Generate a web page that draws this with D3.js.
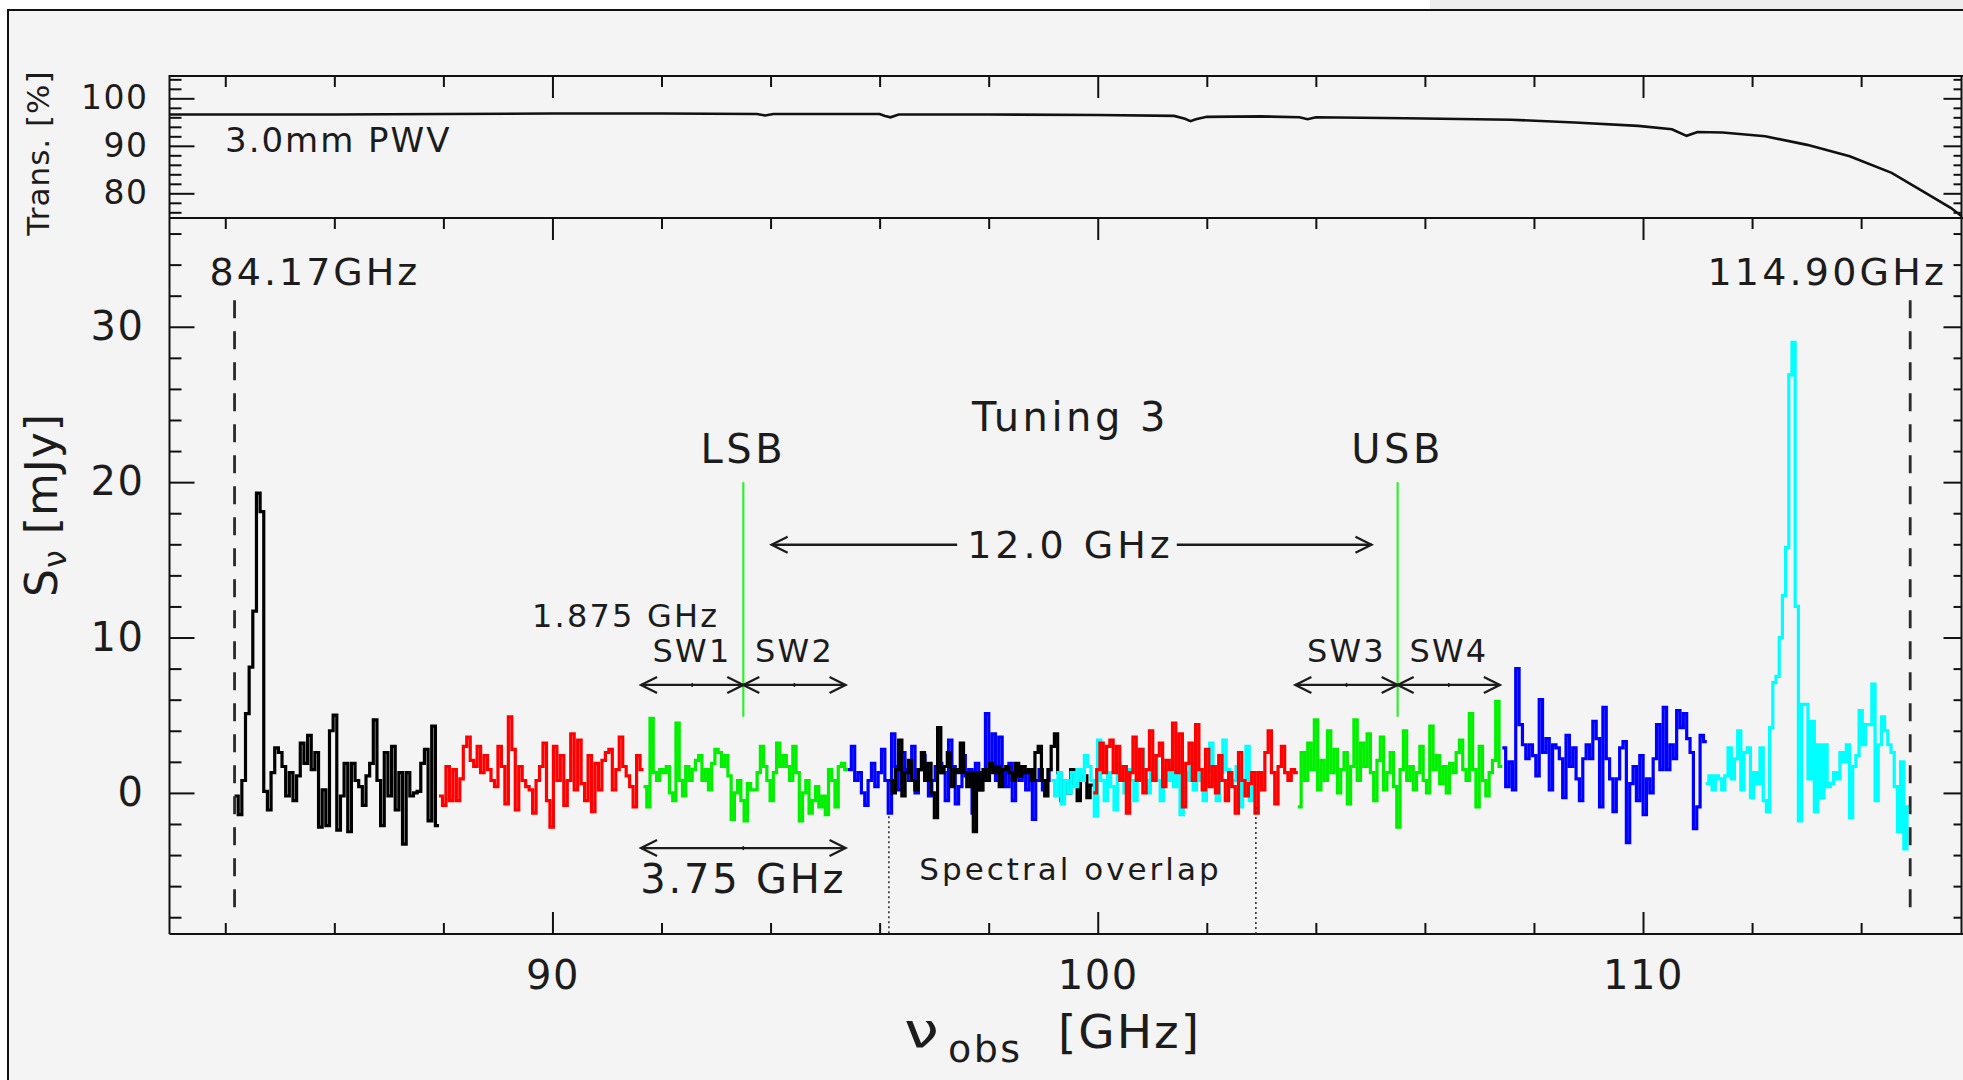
<!DOCTYPE html>
<html><head><meta charset="utf-8">
<script src="https://cdn.jsdelivr.net/npm/d3@7"></script>
<style>
html,body{margin:0;padding:0;background:#fff;}
svg{display:block;}
text{font-family:"DejaVu Sans",sans-serif;fill:#1c1c1c;}
</style></head><body>
<svg id="chart" width="1963" height="1080"></svg>
<script>
// ---------------- DATA ----------------
// atmospheric transmission (top panel)
const transFreq=[82.98,86.0,88.0,90.0,92.0,93.75,93.9,94.05,96.0,96.1,96.2,96.35,98.0,100.0,101.4,101.6,101.7,101.8,102.0,103.0,103.7,103.85,104.0,105.65,107.58,108.75,109.91,110.53,110.8,111.0,111.46,112.24,113.01,113.79,114.56,115.18,115.65,115.85];
const transPct=[96.6,96.6,96.7,96.8,96.8,96.7,96.4,96.7,96.7,96.3,96.0,96.6,96.6,96.5,96.3,95.7,95.2,95.6,96.1,96.2,96.0,95.6,96.0,95.8,95.5,94.9,94.2,93.5,92.1,92.9,92.8,92.0,90.2,87.8,84.3,80.1,76.9,75.1];

// spectra (mJy), one array per 3.75 GHz window
const blackA=[-0.2,-1.4,0.8,5.1,8.1,11.7,19.3,18.1,0.1,-1.1,1.3,2.9,2.6,1.7,-0.2,1.3,-0.5,1.1,3.2,1.9,3.7,1.5,2.6,-2.2,0.2,-2.1,4.0,5.0,-2.4,-0.2,1.9,-2.5,1.9,0.8,0.4,-0.8,1.1,1.9,4.7,0.8,-2.1,2.6,-0.2,3.0,-1.1,1.3,-3.3,1.3,-0.2,0.0,0.1,1.9,2.8,-1.8,4.3,-2.1];
const redA=[-0.2,-0.8,1.7,-0.5,1.5,-0.5,0.9,3.0,3.6,2.1,1.7,3.0,1.3,2.4,1.5,0.8,0.4,3.0,1.7,-0.7,4.9,2.8,-1.1,1.7,0.8,0.4,0.2,-1.3,0.8,1.7,3.2,-0.5,-2.2,3.0,0.8,2.4,-0.8,0.8,3.8,0.2,3.4,0.6,-0.5,2.4,-1.2,1.9,0.2,2.1,2.6,2.8,0.2,1.5,3.6,1.7,1.1,0.4,-0.9,2.4,1.5];
const greenA=[0.4,-0.9,4.8,1.3,0.8,1.5,1.3,1.7,0,-0.5,4.5,0.8,-0.2,1.7,0.8,1.5,2.1,2.4,0.8,1.5,0.2,1.9,2.8,2.6,1.7,2.4,1.1,-1.7,0,0.8,-0.5,-1.8,0.6,0.2,0.2,1.3,3.0,1.7,0.8,-0.5,1.3,3.2,1.7,2.4,1.7,0.8,3.0,1.3,-1.8,0,0.8,-1.3,-0.5,0.4,-0.9,-0.2,-1.4,1.5,0.8,-0.9,1.7,1.9,1.5];
const blueA=[1.5,3.0,0.8,1.3,0,-0.8,0.8,1.9,0.4,1.3,2.8,0.8,-1.3,3.8,1.7,0.2,2.6,1.5,0.8,3.0,0,1.5,2.4,1.3,-0.2,0.8,1.7,1.9,1.3,-0.5,3.4,1.7,-0.7,0.4,2.4,1.1,1.5,-1.3,1.9,0.2,0.8,5.1,1.7,3.8,0.8,3.6,1.3,0.4,1.9,-0.5,1.7,0.8,1.3,0.2,1.5,-1.7,0.8,1.5,0.2,0.8,1.5];
const blackB=[0.8,0,1.5,3.4,-0.2,1.3,2.1,0.8,0.2,1.5,2.6,0.8,1.9,0,-1.6,4.2,1.3,1.7,2.6,0.4,1.5,1.3,3.2,1.3,0.4,1.3,-2.5,1.3,0.2,1.5,0.8,1.9,1.3,1.7,0.4,1.5,1.7,1.3,0.8,1.9,1.1,1.7,1.3,1.5,0.8,2.6,3.0,0.8,-0.2,1.5,3.0,3.8,1.3,-0.5,0.8,0,1.5,0.6,-0.5,0.8,1.1,-0.3,0.5];
const cyanA=[0.8,-0.2,1.3,-0.7,0.8,0,1.3,0.4,1.5,0.8,2.4,1.7,0.8,-1.5,3.4,0.8,-0.5,1.3,0.4,-1.1,1.9,0.8,0,1.5,0.8,-0.5,1.3,2.8,0.8,0,1.5,2.4,0.8,-0.5,1.5,0.8,1.9,0.4,3.0,-1.4,1.3,0.8,1.9,0.2,1.3,0.8,-0.5,1.3,3.2,0.8,-0.5,1.3,3.4,1.5,0.4,0.8,1.7,-0.9,0.8,3.0,-0.5,0.4];
const redB=[0,1.5,3.2,1.3,3.0,3.4,1.3,3.0,0.8,1.7,-1.3,1.3,3.6,0.8,2.8,0,1.5,4.0,0.8,2.4,3.2,0.4,2.1,1.5,4.5,1.3,3.8,-0.9,1.9,3.2,0.8,4.4,1.5,0.2,2.8,0.4,1.7,0,2.4,0.8,-0.5,1.3,0.4,-1.3,2.6,0.8,-0.2,0.6,1.3,-1.3,1.3,0.2,2.6,4.0,1.3,-0.7,1.7,3.0,1.3,0.8,1.5,1.3];
const greenB=[-0.9,2.6,0.8,3.2,1.5,4.7,0.2,2.1,0.8,4.0,1.3,2.8,0,1.5,2.6,-0.7,1.7,4.7,0.8,3.2,1.7,3.8,1.3,-0.5,2.1,3.6,0.2,1.3,2.6,0.4,-2.2,1.5,4.0,0.8,1.7,0.2,1.3,3.0,0.8,0,4.3,1.5,2.4,0.6,1.7,0,1.9,1.3,2.6,3.4,1.5,0.8,5.1,1.5,-0.9,3.0,0.8,-0.2,1.3,2.1,5.9,1.7];
const blueB=[2.9,0.4,2.0,0.2,8.0,4.4,3.1,2.2,3.1,2.4,1.1,6.0,2.6,3.5,0.2,3.1,2.9,2.2,-0.3,3.7,1.7,2.9,0.9,-0.5,2.2,3.1,2.2,4.6,3.5,-0.9,5.5,2.2,0.9,-1.2,0.9,2.9,3.3,-3.2,0.6,1.7,-0.5,2.4,-1.4,0.9,0,2.2,4.4,1.5,5.5,1.5,3.1,2.2,5.3,4.2,5.1,3.5,2.6,-2.3,-0.9,3.7,3.3];
const cyanB=[0.6,1.1,0.2,1.1,0.9,0.2,1.1,2.9,0.9,2.2,4.0,0.2,2.6,2.9,-0.3,1.3,0.6,2.9,-0.5,-1.2,4.2,7.1,7.5,10.0,12.7,15.8,26.9,29.0,12.0,-1.8,5.7,5.7,0.9,4.6,-1.2,3.1,-0.3,3.1,0.4,0.6,1.3,0.9,2.6,2.0,3.1,-1.6,1.7,2.4,5.3,3.1,4.4,4.4,7.0,-0.5,3.1,4.9,4.0,3.1,2.6,0.4,-2.5,2.0,-3.6,-0.9];

// window edges (GHz) and tuning number of each window
const segStart=[84.17,87.92,91.67,95.42,96.17,99.15,99.92,103.67,107.42,111.15];
const segEnd  =[87.92,91.67,95.42,99.17,99.92,102.90,103.67,107.42,111.17,114.90];
const segTuning=[1,2,3,4,1,5,2,3,4,5];
const segValues=[blackA,redA,greenA,blueA,blackB,cyanA,redB,greenB,blueB,cyanB];

// ticks / labels
const xMajor=[90,100,110];
const xMinor=[84,86,88,92,94,96,98,102,104,106,108,112,114];
const transMajor=[80,90,100];
const transMinor=[76,78,82,84,86,88,92,94,96,98,102,104];
const fluxMajor=[0,10,20,30];
const fluxMinor=[-8,-6,-4,-2,2,4,6,8,12,14,16,18,22,24,26,28,32,34,36];

// annotation values
const lsbFreq=93.5, usbFreq=105.5;
const bandEdges=[84.17,114.90];
const overlapEdges=[96.17,102.90];

// ---------------- DRAW ----------------
const W=1963,H=1080;
const tuningColor={1:"#000000",2:"#ff0000",3:"#00f000",4:"#0000ff",5:"#00ffff"};
const svg=d3.select("#chart");
svg.append("rect").attr("width",W).attr("height",H).attr("fill","#fff");
svg.append("rect").attr("x",8).attr("y",10).attr("width",W-8).attr("height",H-10).attr("fill","#f4f4f4");
svg.append("rect").attr("x",1430).attr("y",0).attr("width",W-1430).attr("height",9).attr("fill","#ededed");
svg.append("path").attr("d","M8,1080V10H1963").attr("fill","none").attr("stroke","#111").attr("stroke-width",2);

const L=169.5,R=1961.5,T0=76,T1=218,B1=934;
const x=d3.scaleLinear().domain([82.977,115.85]).range([L,1962]);
const yT=d3.scaleLinear().domain([74.8,104.7]).range([T1,T0]);
const yS=d3.scaleLinear().domain([-9.08,37.0]).range([B1,T1]);

const defs=svg.append("defs");
defs.append("clipPath").attr("id","clipT").append("rect").attr("x",L).attr("y",T0).attr("width",R-L).attr("height",T1-T0);
defs.append("clipPath").attr("id","clipS").append("rect").attr("x",L).attr("y",T1).attr("width",R-L).attr("height",B1-T1);

function axis(gen,tx,ty,vals,size,fmt,pad,fs){
  const g=svg.append("g").attr("transform",`translate(${tx},${ty})`)
    .call(gen.tickValues(vals).tickSizeInner(size).tickSizeOuter(0).tickPadding(pad).tickFormat(fmt));
  g.select(".domain").remove();
  g.attr("font-family",null).attr("font-size",null);
  g.selectAll(".tick line").attr("stroke","#111").attr("stroke-width",2);
  g.selectAll(".tick text").style("font-size",fs+"px").style("letter-spacing","1.5px").attr("fill","#1c1c1c");
  return g;
}
const none=()=>"";
axis(d3.axisBottom(x),0,T0,xMinor,11,none,0,10);
axis(d3.axisBottom(x),0,T0,xMajor,22,none,0,10);
axis(d3.axisBottom(x),0,T1,xMinor,11,none,0,10);
axis(d3.axisBottom(x),0,T1,xMajor,22,none,0,10);
axis(d3.axisBottom(x),0,B1,xMinor,-11,none,0,10);
axis(d3.axisBottom(x),0,B1,xMajor,-22,d3.format("d"),27,40);
axis(d3.axisLeft(yT),L,0,transMinor,-12,none,0,10);
axis(d3.axisLeft(yT),L,0,transMajor,-25,d3.format("d"),21,33);
axis(d3.axisLeft(yS),L,0,fluxMinor,-12,none,0,10);
axis(d3.axisLeft(yS),L,0,fluxMajor,-25,d3.format("d"),25,40);
axis(d3.axisRight(yT),R,0,transMinor,-8,none,0,10);
axis(d3.axisRight(yT),R,0,transMajor,-18,none,0,10);
axis(d3.axisRight(yS),R,0,fluxMinor,-8,none,0,10);
axis(d3.axisRight(yS),R,0,fluxMajor,-18,none,0,10);

const frame=svg.append("g").attr("fill","none").attr("stroke","#111").attr("stroke-width",2);
frame.append("path").attr("d",`M${L},${B1}V${T0}H${W}M${L},${T1}H${W}M${L},${B1}H${W}M${R},${T0}V${B1}`);

// transmission
svg.append("path").datum(transFreq.map((f,i)=>[f,transPct[i]]))
  .attr("clip-path","url(#clipT)")
  .attr("d",d3.line().x(d=>x(d[0])).y(d=>yT(d[1])))
  .attr("fill","none").attr("stroke","#111").attr("stroke-width",2.6);

// spectra
const stepLine=d3.line().curve(d3.curveStep).x(d=>x(d[0])).y(d=>yS(d[1]));
segValues.forEach((vals,k)=>{
  const s=segStart[k],e=segEnd[k],w=(e-s)/vals.length;
  const pts=[[s,vals[0]]].concat(vals.map((v,i)=>[s+(i+0.5)*w,v])).concat([[e,vals[vals.length-1]]]);
  svg.append("path").datum(pts).attr("clip-path","url(#clipS)")
    .attr("d",stepLine).attr("fill","none")
    .attr("stroke",tuningColor[segTuning[k]]).attr("stroke-width",3.2).attr("stroke-linejoin","miter");
});

// dashed band edges
bandEdges.forEach(f=>{
  svg.append("line").attr("x1",x(f)).attr("x2",x(f)).attr("y1",yS(31.7)).attr("y2",yS(-8.0))
    .attr("stroke","#2a2a2a").attr("stroke-width",2.8).attr("stroke-dasharray","18,13");
});
// dotted overlap edges
[[overlapEdges[0],-1.5],[overlapEdges[1],-0.9]].forEach(([f,top])=>{
  svg.append("line").attr("x1",x(f)).attr("x2",x(f)).attr("y1",yS(top)).attr("y2",B1)
    .attr("stroke","#333").attr("stroke-width",1.6).attr("stroke-dasharray","2,3");
});
// LSB / USB lines
[lsbFreq,usbFreq].forEach(f=>{
  svg.append("line").attr("x1",x(f)).attr("x2",x(f)).attr("y1",yS(20)).attr("y2",yS(4.9))
    .attr("stroke","#33ee33").attr("stroke-width",2.2);
});

function txt(s,xp,yp,fs,anchor,ls){
  return svg.append("text").attr("x",xp).attr("y",yp).attr("text-anchor",anchor||"start")
    .style("font-size",fs+"px").style("letter-spacing",(ls||0)+"px").text(s);
}
const ag=svg.append("g").attr("fill","none").attr("stroke","#1c1c1c").attr("stroke-width",2.3);
function head(xt,y,dir){
  ag.append("path").attr("d",`M${xt-dir*16},${y-8}L${xt},${y}L${xt-dir*16},${y+8}`);
}
function dbl(x1,x2,y,mid){
  ag.append("line").attr("x1",x1).attr("x2",x2).attr("y1",y).attr("y2",y);
  head(x1,y,-1); head(x2,y,1);
  if(mid){ const m=(x1+x2)/2; ag.append("line").attr("x1",m).attr("x2",m).attr("y1",y-2).attr("y2",y+2).attr("stroke-width",1.5); }
}

txt("3.0mm PWV",225,152,34,"start",2);
txt("84.17GHz",x(bandEdges[0])-25,285,38,"start",3);
txt("114.90GHz",x(bandEdges[1])+37,285,38,"end",3.2);
txt("Tuning 3",x(99.5),yS(23.3),40,"middle",3.5);
txt("LSB",x(lsbFreq),yS(21.25),40,"middle",3.5);
txt("USB",x(usbFreq),yS(21.25),40,"middle",3.5);

const yA=yS(15.97);
const t12=txt("12.0 GHz",x(99.5),yA+13,38,"middle",4);
const w12=t12.node().getComputedTextLength();
ag.append("line").attr("x1",x(94.02)).attr("x2",x(99.5)-w12/2-10).attr("y1",yA).attr("y2",yA);
head(x(94.02),yA,-1);
ag.append("line").attr("x1",x(99.5)+w12/2+3).attr("x2",x(105.02)).attr("y1",yA).attr("y2",yA);
head(x(105.02),yA,1);

txt("1.875 GHz",532,yS(10.7),32,"start",2.2);
const ySW=yS(6.95), ySWt=yS(8.4);
txt("SW1",x(92.56),ySWt,32,"middle",2.2);
txt("SW2",x(94.44),ySWt,32,"middle",2.2);
txt("SW3",x(104.56),ySWt,32,"middle",2.2);
txt("SW4",x(106.44),ySWt,32,"middle",2.2);
dbl(x(91.625),x(93.5),ySW,true); dbl(x(93.5),x(95.375),ySW,true);
dbl(x(103.625),x(105.5),ySW,true); dbl(x(105.5),x(107.375),ySW,true);

dbl(x(91.625),x(95.375),yS(-3.55),true);
txt("3.75 GHz",x(93.5),yS(-6.45),40,"middle",2.8);
txt("Spectral overlap",x(99.5),yS(-5.6),31,"middle",3);

// axis titles
svg.append("text").attr("transform","translate(49,153) rotate(-90)").attr("text-anchor","middle")
  .style("font-size","31px").style("letter-spacing","1px").text("Trans. [%]");
const sy=svg.append("text").attr("transform","translate(57,505) rotate(-90)").attr("text-anchor","middle")
  .style("font-size","44px").style("letter-spacing","1px");
sy.append("tspan").text("S");
sy.append("tspan").attr("dy",9).style("font-size","32px").text("ν");
sy.append("tspan").attr("dy",-9).text(" [mJy]");

svg.append("text").attr("transform","translate(904,1047) scale(1.3,1)").style("font-size","48px").text("ν");
txt("obs",948,1062,38,"start",2.5);
txt("[GHz]",1058,1048,47,"start",2);
</script></body></html>
